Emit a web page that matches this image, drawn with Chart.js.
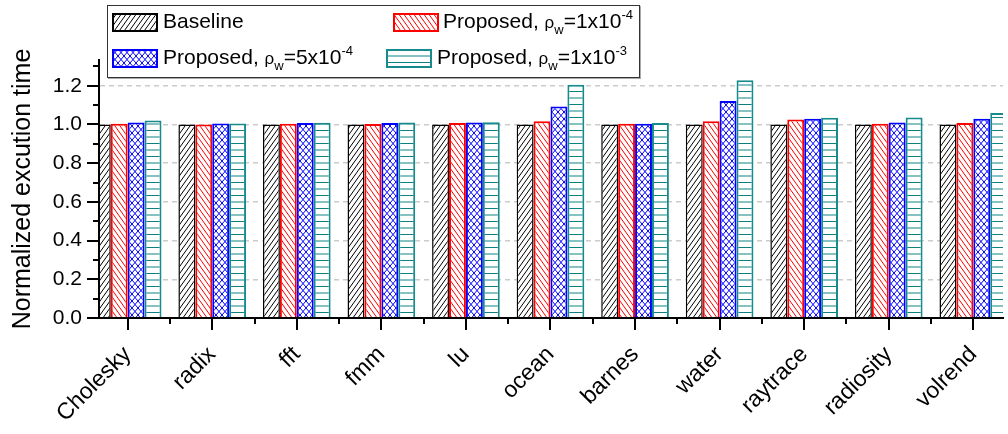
<!DOCTYPE html>
<html>
<head>
<meta charset="utf-8">
<title>Normalized execution time</title>
<script src="https://cdn.jsdelivr.net/npm/chart.js@4.4.0/dist/chart.umd.min.js"></script>
<style>
  body { margin: 0; background: #fff; }
  #wrap { position: relative; width: 1008px; height: 434px; }
  #legend {
    position: absolute; left: 107px; top: 5px; width: 531px; height: 71px;
    border: 1px solid #333; background: #fff; box-shadow: 1px 1px 0 #aaa;
    font-family: "Liberation Sans", Arial, sans-serif; font-size: 21px; color: #000;
  }
  .item { position: absolute; height: 19px; }
  .item canvas { position: absolute; left: 0; top: 0; }
  .item .txt { position: absolute; top: -2px; line-height: 20px; white-space: nowrap; }
  .rho { font-size: 17px; }
  sub, sup { font-size: 13px; line-height: 0; }
  sub { vertical-align: -6px; }
  sup { vertical-align: 9px; }
</style>
</head>
<body>
<div id="wrap">
  <canvas id="myChart" width="1008" height="434"></canvas>
  <div id="legend">
    <div class="item" style="left:4px; top:7px;"><canvas width="46" height="19"></canvas><span class="txt" style="left:51px;">Baseline</span></div>
    <div class="item" style="left:285px; top:7px;"><canvas width="46" height="19"></canvas><span class="txt" style="left:50px;">Proposed, <span class="rho">ρ</span><sub>w</sub>=1x10<sup>-4</sup></span></div>
    <div class="item" style="left:4px; top:43px;"><canvas width="46" height="19"></canvas><span class="txt" style="left:51px;">Proposed, <span class="rho">ρ</span><sub>w</sub>=5x10<sup>-4</sup></span></div>
    <div class="item" style="left:278px; top:43px;"><canvas width="46" height="19"></canvas><span class="txt" style="left:51px;">Proposed, <span class="rho">ρ</span><sub>w</sub>=1x10<sup>-3</sup></span></div>
  </div>
</div>
<script>
// benchmarks on the x axis
const categories = ['Cholesky', 'radix', 'fft', 'fmm', 'lu', 'ocean', 'barnes', 'water', 'raytrace', 'radiosity', 'volrend'];

// normalized execution time per scheme
const baseline    = [1.000, 1.000, 1.000, 1.000, 1.000, 1.000, 1.000, 1.000, 1.000, 1.000, 1.000];
const proposed1e4 = [1.003, 1.000, 1.003, 1.002, 1.007, 1.016, 1.003, 1.017, 1.026, 1.003, 1.007];
const proposed5e4 = [1.010, 1.005, 1.007, 1.007, 1.010, 1.093, 1.003, 1.121, 1.029, 1.010, 1.029];
const proposed1e3 = [1.021, 1.005, 1.009, 1.010, 1.012, 1.205, 1.007, 1.228, 1.034, 1.036, 1.059];

// y axis labels
const yTicks = [0, 0.2, 0.4, 0.6, 0.8, 1.0, 1.2];

const FONT = '"Liberation Sans", Arial, sans-serif';

// hatch fills (white background + lines), like the origin plot styles
function hatch(kind) {
  const c = document.createElement('canvas');
  const sizes = { slash: [5, 7], back: [5, 7], cross: [6, 7], hline: [4, 13] };
  const [w, h] = sizes[kind];
  c.width = w; c.height = h;
  const g = c.getContext('2d');
  g.fillStyle = '#fff';
  g.fillRect(0, 0, w, h);
  g.lineWidth = 1;
  if (kind === 'slash' || kind === 'cross') {
    g.strokeStyle = kind === 'slash' ? '#000' : '#0000ff';
    g.beginPath();
    for (let k = -1; k <= 1; k++) { g.moveTo(k * w - w, 2 * h); g.lineTo(k * w + 2 * w, -h); }
    g.stroke();
  }
  if (kind === 'back' || kind === 'cross') {
    g.strokeStyle = kind === 'back' ? '#ff0000' : '#0000ff';
    g.beginPath();
    for (let k = -1; k <= 1; k++) { g.moveTo(k * w - w, -h); g.lineTo(k * w + 2 * w, 2 * h); }
    g.stroke();
  }
  if (kind === 'hline') {
    g.fillStyle = '#0b8080';
    g.fillRect(0, 0, w, 1);
    g.fillStyle = '#86c2c2';
    g.fillRect(0, 6, w, 2);
  }
  return g.createPattern(c, 'repeat');
}

const styles = [
  { fill: hatch('slash'), line: '#000000', width: 1.5 },
  { fill: hatch('back'),  line: '#ff0000', width: 2 },
  { fill: hatch('cross'), line: '#0000ff', width: 2 },
  { fill: hatch('hline'), line: '#178b8b', width: 2 }
];

const toPoints = arr => arr.map((v, i) => ({ x: i + 1, y: v }));

// legend swatches
document.querySelectorAll('#legend canvas').forEach((cv, i) => {
  const g = cv.getContext('2d');
  g.fillStyle = styles[i].fill;
  g.fillRect(0, 0, cv.width, cv.height);
  g.strokeStyle = styles[i].line;
  g.lineWidth = 2;
  g.strokeRect(1, 1, cv.width - 2, cv.height - 2);
});

// major / minor tick marks drawn outward from both axes
const axisTicks = {
  id: 'axisTicks',
  afterDraw(chart) {
    const { ctx, chartArea: a, scales: { x, y } } = chart;
    ctx.save();
    ctx.strokeStyle = '#000';
    ctx.lineWidth = 2;
    ctx.beginPath();
    for (let i = 0; i <= 13; i++) {
      const py = Math.round(y.getPixelForValue(i / 10));
      ctx.moveTo(a.left, py);
      ctx.lineTo(a.left - (i % 2 === 0 ? 12 : 6), py);
    }
    for (let i = 1; i <= categories.length; i++) {
      const px = Math.round(x.getPixelForValue(i));
      ctx.moveTo(px, a.bottom);
      ctx.lineTo(px, a.bottom + 12);
      if (i < categories.length) {
        const mx = Math.round(x.getPixelForValue(i + 0.5));
        ctx.moveTo(mx, a.bottom);
        ctx.lineTo(mx, a.bottom + 6);
      }
    }
    ctx.stroke();
    ctx.restore();
  }
};

const series = [baseline, proposed1e4, proposed5e4, proposed1e3];
const names = ['Baseline', 'Proposed, ρw=1x10-4', 'Proposed, ρw=5x10-4', 'Proposed, ρw=1x10-3'];

new Chart(document.getElementById('myChart'), {
  type: 'bar',
  data: {
    datasets: series.map((s, i) => ({
      label: names[i],
      data: toPoints(s),
      backgroundColor: styles[i].fill,
      borderColor: styles[i].line,
      borderWidth: styles[i].width
    }))
  },
  options: {
    responsive: false,
    animation: false,
    layout: { padding: { top: 60, right: 5, left: 0, bottom: 0 } },
    datasets: { bar: { categoryPercentage: 0.8, barPercentage: 1.0 } },
    plugins: { legend: { display: false }, tooltip: { enabled: false } },
    scales: {
      x: {
        type: 'linear',
        offset: false,
        min: 0.661,
        max: 11.351,
        afterBuildTicks: s => { s.ticks = categories.map((c, i) => ({ value: i + 1 })); },
        afterFit: s => { s.height = 116; },
        grid: { display: false, offset: false },
        border: { color: '#000', width: 2, z: 1 },
        ticks: {
          autoSkip: false,
          minRotation: 45,
          maxRotation: 45,
          padding: 15,
          color: '#000',
          font: { family: FONT, size: 23 },
          callback: v => categories[v - 1]
        }
      },
      y: {
        min: 0,
        max: 1.333,
        afterBuildTicks: s => { s.ticks = yTicks.map(v => ({ value: v })); },
        afterFit: s => { s.width = 99; },
        grid: {
          drawTicks: false,
          lineWidth: 1.5,
          color: c => (c.tick && c.tick.value > 0 ? '#cccccc' : 'rgba(0,0,0,0)')
        },
        border: { color: '#000', width: 2, z: 1, dash: [5, 4] },
        ticks: {
          padding: 17,
          color: '#000',
          font: { family: FONT, size: 21 },
          callback: v => v.toFixed(1)
        },
        title: {
          display: true,
          text: 'Normalized excution time',
          color: '#000',
          font: { family: FONT, size: 25 },
          padding: { top: 8, bottom: 0 }
        }
      }
    }
  },
  plugins: [axisTicks]
});
</script>
</body>
</html>
